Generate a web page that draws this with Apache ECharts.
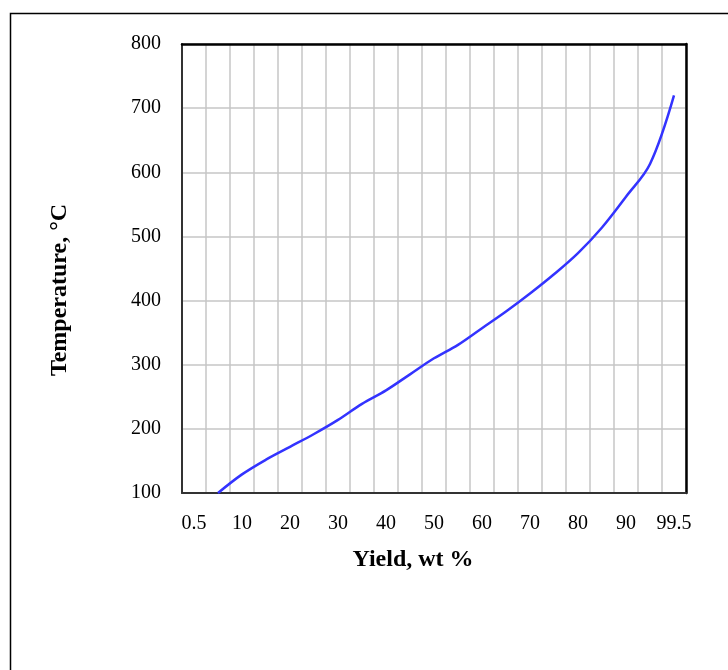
<!DOCTYPE html>
<html>
<head>
<meta charset="utf-8">
<script src="https://cdn.jsdelivr.net/npm/echarts@6/dist/echarts.min.js"></script>
<style>
  html, body { margin: 0; padding: 0; background: #fff; }
  #chart { width: 728px; height: 670px; }
</style>
</head>
<body>
<div id="chart"></div>
<script>
// Distillation curve: cumulative yield (wt %) vs. boiling temperature (°C)
const yieldCategories = ['0.5', '5', '10', '15', '20', '25', '30', '35', '40', '45', '50',
                         '55', '60', '65', '70', '75', '80', '85', '90', '95', '99.5'];
const temperatures = ['-', 100, 129, 152, 172, 192, 214, 239, 260, 285, 310,
                      331, 357, 383, 411, 441, 474, 514, 562, 613, 720];
const tempMin = 100;
const tempMax = 800;
const tempStep = 100;

const serif = 'Liberation Serif, Times New Roman, serif';

const chart = echarts.init(document.getElementById('chart'), null, { renderer: 'canvas' });

// plain frame axes for the top and right edges of the plot box
const frameLine = { show: true, lineStyle: { color: '#000', width: 2.5 } };

chart.setOption({
  animation: false,
  backgroundColor: '#fff',
  grid: { left: 182, right: 42, top: 44, bottom: 177 },
  xAxis: [
    {
      type: 'category',
      data: yieldCategories,
      boundaryGap: true,
      axisLine: { show: true, lineStyle: { color: '#333', width: 2 } },
      axisTick: { show: false },
      axisLabel: {
        interval: 1, margin: 21,
        color: '#000', fontFamily: serif, fontSize: 20
      },
      splitLine: { show: true, interval: 0, lineStyle: { color: '#c6c6c6', width: 1.5 } }
    },
    {
      type: 'category',
      data: yieldCategories,
      position: 'top',
      axisLine: frameLine,
      axisTick: { show: false },
      axisLabel: { show: false },
      splitLine: { show: false }
    }
  ],
  yAxis: [
    {
      type: 'value',
      min: tempMin, max: tempMax, interval: tempStep,
      axisLine: { show: true, lineStyle: { color: '#333', width: 2 } },
      axisTick: { show: false },
      axisLabel: { margin: 21, color: '#000', fontFamily: serif, fontSize: 20 },
      splitLine: { show: true, lineStyle: { color: '#c6c6c6', width: 1.5 } }
    },
    {
      type: 'value',
      min: tempMin, max: tempMax, interval: tempStep,
      position: 'right',
      axisLine: frameLine,
      axisTick: { show: false },
      axisLabel: { show: false },
      splitLine: { show: false }
    }
  ],
  series: [{
    type: 'line',
    xAxisIndex: 0,
    yAxisIndex: 0,
    data: temperatures,
    smooth: 0.35,
    showSymbol: false,
    lineStyle: { color: '#3333ff', width: 2.5 },
    z: 5
  }],
  graphic: [
    {
      type: 'rect',
      silent: true,
      shape: { x: 10.5, y: 13.5, width: 800, height: 800 },
      style: { fill: 'none', stroke: '#000', lineWidth: 1.5 }
    },
    {
      type: 'text',
      x: 60, y: 290,
      rotation: Math.PI / 2,
      style: {
        text: 'Temperature, °C',
        font: 'bold 24px ' + serif,
        fill: '#000',
        align: 'center',
        verticalAlign: 'middle'
      }
    },
    {
      type: 'text',
      x: 413, y: 560,
      style: {
        text: 'Yield, wt %',
        font: 'bold 24px ' + serif,
        fill: '#000',
        align: 'center',
        verticalAlign: 'middle'
      }
    }
  ]
});
</script>
</body>
</html>
